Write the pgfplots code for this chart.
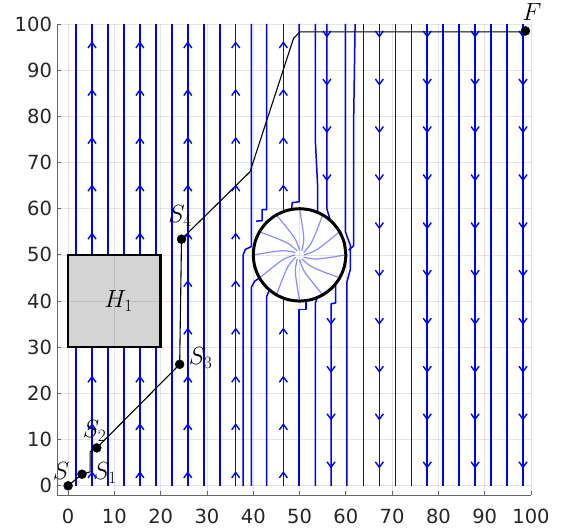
\documentclass[border=0pt]{standalone}
\usepackage{pgfplots}
\pgfplotsset{compat=1.18}
\usepackage{fontspec}
\newfontfamily\tickfont{DejaVu Sans}
\definecolor{obst}{RGB}{212,212,212}
\definecolor{sl}{RGB}{0,0,255}
\pgfdeclareplotmark{uparr}{\pgfpathmoveto{\pgfqpoint{-4pt}{-5.5pt}}\pgfpathlineto{\pgfqpoint{0pt}{0pt}}\pgfpathlineto{\pgfqpoint{4pt}{-5.5pt}}\pgfusepathqstroke}
\pgfdeclareplotmark{dnarr}{\pgfpathmoveto{\pgfqpoint{-4pt}{5.5pt}}\pgfpathlineto{\pgfqpoint{0pt}{0pt}}\pgfpathlineto{\pgfqpoint{4pt}{5.5pt}}\pgfusepathqstroke}
\pgfplotsset{
  sline/.style={draw=sl, color=sl, line width=1.5pt, mark=none, line join=round},
  arm/.style={draw=sl, color=sl, opacity=0.45, line width=1.2pt, mark=none, smooth},
  upa/.style={draw=sl, color=sl, line width=1.4pt, only marks, mark=uparr},
  dna/.style={draw=sl, color=sl, line width=1.4pt, only marks, mark=dnarr},
}
\begin{document}
\begin{tikzpicture}
\begin{axis}[
  scale only axis, width=474pt, height=471pt,
  xmin=-2.4, xmax=100, ymin=-2, ymax=100,
  axis x line*=bottom, axis y line*=left,
  axis line style={-, black!60, line width=0.8pt},
  xtick={0,10,...,100}, ytick={0,10,...,100},
  tick align=inside, major tick length=4.5pt,
  tick style={black!60, line width=0.8pt},
  grid=major, grid style={draw=black, opacity=0.1, line width=0.6pt},
  axis on top, clip=false,
  ticklabel style={font=\tickfont\fontsize{19.5}{22}\selectfont, text=black!85},
  /pgf/number format/assume math mode=true,
  xticklabel style={yshift=-10pt}, yticklabel style={xshift=-1.5pt},
]
% full streamlines, left (upward)
\addplot[sline] coordinates {(1.72,0)(1.72,50)(1.72,100)};
\addplot[sline] coordinates {(5.17,0)(5.17,50)(5.17,100)};
\addplot[sline] coordinates {(8.62,0)(8.62,50)(8.62,100)};
\addplot[sline] coordinates {(12.07,0)(12.07,50)(12.07,100)};
\addplot[sline] coordinates {(15.51,0)(15.51,50)(15.51,100)};
\addplot[sline] coordinates {(18.96,0)(18.96,50)(18.96,100)};
\addplot[sline] coordinates {(22.41,0)(22.41,50)(22.41,100)};
\addplot[sline] coordinates {(25.86,0)(25.86,50)(25.86,100)};
\addplot[sline] coordinates {(29.31,0)(29.31,50)(29.31,100)};
\addplot[sline] coordinates {(32.76,0)(32.76,50)(32.76,100)};
\addplot[sline] coordinates {(36.21,0)(36.21,50)(36.21,100)};
% full streamlines, right (downward)
\addplot[sline] coordinates {(63.78,0)(63.78,50)(63.78,100)};
\addplot[sline] coordinates {(67.24,0)(67.24,50)(67.24,100)};
\addplot[sline] coordinates {(70.68,0)(70.68,50)(70.68,100)};
\addplot[sline] coordinates {(74.13,0)(74.13,50)(74.13,100)};
\addplot[sline] coordinates {(77.58,0)(77.58,50)(77.58,100)};
\addplot[sline] coordinates {(81.03,0)(81.03,50)(81.03,100)};
\addplot[sline] coordinates {(84.48,0)(84.48,50)(84.48,100)};
\addplot[sline] coordinates {(87.92,0)(87.92,50)(87.92,100)};
\addplot[sline] coordinates {(91.37,0)(91.37,50)(91.37,100)};
\addplot[sline] coordinates {(94.82,0)(94.82,50)(94.82,100)};
\addplot[sline] coordinates {(98.27,0)(98.27,50)(98.27,100)};
% streamlines deflected by the circle
\addplot[sline] coordinates {(37.8,0)(37.8,50)(38.3,51.2)(39.6,51.8)(39.6,100)};
\addplot[sline] coordinates {(39.6,0)(39.6,43)(40.3,44.3)(41.3,45)};
\addplot[sline] coordinates {(42.9,0)(42.9,41)(43.5,42.4)};
\addplot[sline] coordinates {(46.5,0)(46.5,40.7)};
\addplot[sline] coordinates {(49.9,0)(49.9,38.2)(51.4,38.2)(51.4,40.1)};
\addplot[sline] coordinates {(53.4,0)(53.4,39.5)(53.8,40.7)};
\addplot[sline] coordinates {(56.8,0)(56.8,39.4)(57.8,39.6)(57.8,43.7)};
\addplot[sline] coordinates {(42.9,100)(42.9,59.8)(41.9,59.8)(41.9,57.4)(40.6,57.3)};
\addplot[sline] coordinates {(46.5,100)(46.5,59.4)};
\addplot[sline] coordinates {(49.9,100)(49.9,61.5)(48.4,61.3)(48.3,59.9)};
\addplot[sline] coordinates {(53.4,100)(53.4,75)(53.9,65)(53.9,59.3)};
\addplot[sline] coordinates {(55.9,100)(55.9,60)(56.6,57.6)};
\addplot[sline] coordinates {(59.9,100)(59.9,55)(61,52)(61,47)(60.2,44)(60.2,0)};
\addplot[sline] coordinates {(62.0,100)(61.7,80)(61.7,52)(60.6,51)};
% arrowheads
\addplot[upa] coordinates {(5.17,2.9)(5.17,13.3)(5.17,23.6)(5.17,54.6)(5.17,65)(5.17,75.3)(5.17,85.7)(5.17,96)};
\addplot[upa] coordinates {(15.51,2.9)(15.51,13.3)(15.51,23.6)(15.51,54.6)(15.51,65)(15.51,75.3)(15.51,85.7)(15.51,96)};
\addplot[upa] coordinates {(25.86,2.9)(25.86,13.3)(25.86,23.6)(25.86,34)(25.86,44.3)(25.86,54.6)(25.86,65)(25.86,75.3)(25.86,85.7)(25.86,96)};
\addplot[upa] coordinates {(36.21,2.9)(36.21,13.3)(36.21,23.6)(36.21,34)(36.21,44.3)(36.21,54.6)(36.21,65)(36.21,75.3)(36.21,85.7)(36.21,96)};
\addplot[upa] coordinates {(46.5,2.9)(46.5,13.3)(46.5,23.6)(46.5,34)(46.5,65)(46.5,75.3)(46.5,85.7)(46.5,96)};
\addplot[dna] coordinates {(55.9,97.3)(55.9,86.9)(55.9,76.6)(55.9,66.2)(56.8,35.1)(56.8,24.7)(56.8,14.4)(56.8,4.0)};
\addplot[dna] coordinates {(67.24,97.3)(67.24,86.9)(67.24,76.6)(67.24,66.2)(67.24,55.8)(67.24,45.5)(67.24,35.1)(67.24,24.7)(67.24,14.4)(67.24,4.0)};
\addplot[dna] coordinates {(77.58,97.3)(77.58,86.9)(77.58,76.6)(77.58,66.2)(77.58,55.8)(77.58,45.5)(77.58,35.1)(77.58,24.7)(77.58,14.4)(77.58,4.0)};
\addplot[dna] coordinates {(87.92,97.3)(87.92,86.9)(87.92,76.6)(87.92,66.2)(87.92,55.8)(87.92,45.5)(87.92,35.1)(87.92,24.7)(87.92,14.4)(87.92,4.0)};
\addplot[dna] coordinates {(98.27,97.3)(98.27,86.9)(98.27,76.6)(98.27,66.2)(98.27,55.8)(98.27,45.5)(98.27,35.1)(98.27,24.7)(98.27,14.4)(98.27,4.0)};
% spiral arms inside the circle
\addplot[arm] coordinates {(59.9,50)(56.48,49.43)(53.38,49.09)(50.87,49.5)};
\addplot[arm] coordinates {(58.57,54.95)(55.89,52.75)(53.38,50.91)(51,50)};
\addplot[arm] coordinates {(54.95,58.57)(53.73,55.32)(52.47,52.47)(50.87,50.5)};
\addplot[arm] coordinates {(50,59.9)(50.57,56.48)(50.91,53.38)(50.5,50.87)};
\addplot[arm] coordinates {(45.05,58.57)(47.25,55.89)(49.09,53.38)(50,51)};
\addplot[arm] coordinates {(41.43,54.95)(44.68,53.73)(47.53,52.47)(49.5,50.87)};
\addplot[arm] coordinates {(40.1,50)(43.52,50.57)(46.62,50.91)(49.13,50.5)};
\addplot[arm] coordinates {(41.43,45.05)(44.11,47.25)(46.62,49.09)(49,50)};
\addplot[arm] coordinates {(45.05,41.43)(46.27,44.68)(47.53,47.53)(49.13,49.5)};
\addplot[arm] coordinates {(50,40.1)(49.43,43.52)(49.09,46.62)(49.5,49.13)};
\addplot[arm] coordinates {(54.95,41.43)(52.75,44.11)(50.91,46.62)(50,49)};
\addplot[arm] coordinates {(58.57,45.05)(55.32,46.27)(52.47,47.53)(50.5,49.13)};
% obstacles
\addplot[draw=black, fill=obst, line width=2.5pt, mark=none, line join=miter] coordinates {(0,30)(20,30)(20,50)(0,50)} -- cycle;
\addplot[black, line width=3pt, mark=none, smooth] coordinates {
 (60,50)(59.659,52.588)(58.660,55)(57.071,57.071)(55,58.660)(52.588,59.659)
 (50,60)(47.412,59.659)(45,58.660)(42.929,57.071)(41.340,55)(40.341,52.588)
 (40,50)(40.341,47.412)(41.340,45)(42.929,42.929)(45,41.340)(47.412,40.341)
 (50,40)(52.588,40.341)(55,41.340)(57.071,42.929)(58.660,45)(59.659,47.412)(60,50)(59.659,52.588)};
% path
\addplot[black, line width=1.1pt, mark=none, line join=round] coordinates {
 (0,0)(3,2.5)(4.75,3.0)(4.75,7.4)(6.2,8.2)(24.1,26.3)(24.5,53.4)(39.3,68.0)(48.7,96.9)(50.1,98.3)(98.6,98.3)(98.8,98.5)};
\addplot[black, only marks, mark=*, mark size=4.5pt] coordinates {(0,0)(3,2.5)(6.2,8.2)(24.1,26.3)(24.5,53.4)(98.8,98.5)};
% labels
\node[inner sep=0, font=\fontsize{24}{28}\selectfont] at (axis cs:-1.5,3.1) {$S$};
\node[inner sep=0, font=\fontsize{24}{28}\selectfont] at (axis cs:8.0,2.7) {$S_1$};
\node[inner sep=0, font=\fontsize{24}{28}\selectfont] at (axis cs:5.7,11.9) {$S_2$};
\node[inner sep=0, font=\fontsize{24}{28}\selectfont] at (axis cs:28.6,27.6) {$S_3$};
\node[inner sep=0, font=\fontsize{24}{28}\selectfont] at (axis cs:24.2,58.4) {$S_4$};
\node[inner sep=0, font=\fontsize{24}{28}\selectfont] at (axis cs:100.2,102.5) {$F$};
\node[inner sep=0, font=\fontsize{27}{30}\selectfont] at (axis cs:10.9,40.0) {$H_1$};
\end{axis}
\pgfresetboundingbox
\path (current axis.south west) ++(-57pt,-36pt) rectangle ++(568pt,531pt);
\end{tikzpicture}
\end{document}
